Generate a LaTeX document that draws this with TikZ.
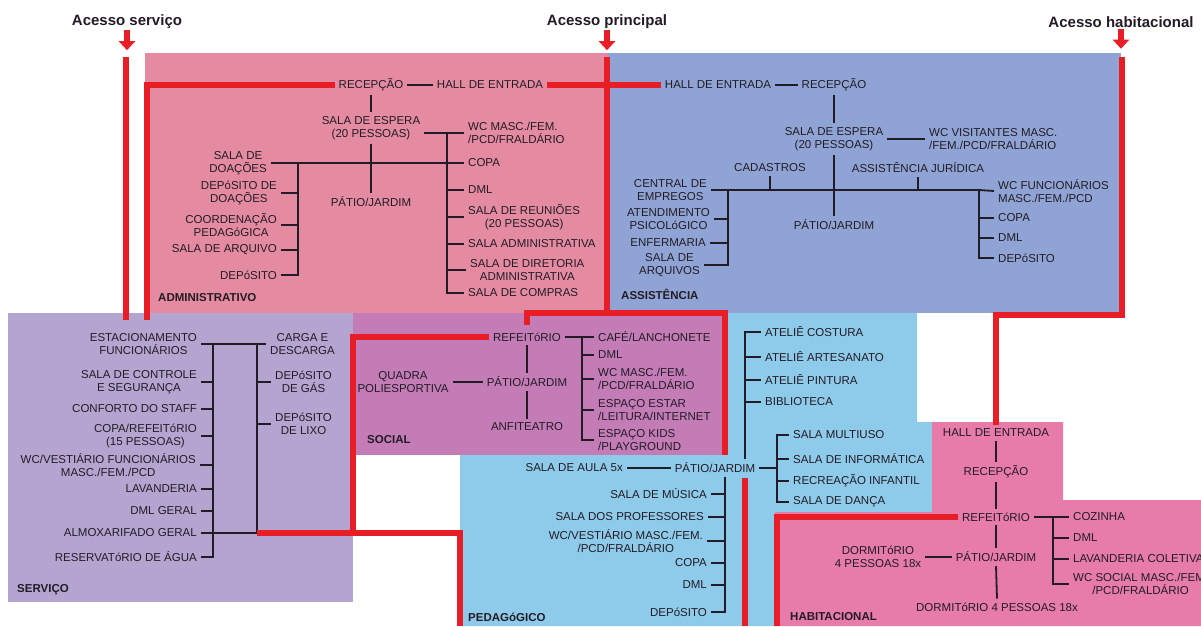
\documentclass[tikz,border=0pt]{standalone}
\usepackage{fontspec}
\setmainfont{Liberation Sans}
\usetikzlibrary{arrows.meta}
\definecolor{admpink}{RGB}{229,139,161}
\definecolor{asblue}{RGB}{143,164,212}
\definecolor{svlilac}{RGB}{180,164,208}
\definecolor{somauve}{RGB}{196,124,183}
\definecolor{pdsky}{RGB}{142,202,233}
\definecolor{hbpink}{RGB}{231,123,170}
\definecolor{rdline}{RGB}{232,30,38}
\definecolor{ink}{RGB}{35,28,38}

\begin{document}
\begin{tikzpicture}[x=1pt,y=-1pt]
\tikzstyle{room}=[font=\fontsize{11.5}{13}\selectfont,text=ink,inner sep=4pt,align=center]
\tikzstyle{roomE}=[room,anchor=east]
\tikzstyle{roomW}=[room,anchor=west]
\tikzstyle{roomWL}=[room,anchor=west,align=left]
\tikzstyle{zone}=[font=\fontsize{11.5}{13}\selectfont\bfseries,text=ink,anchor=west,inner sep=4pt]
\tikzstyle{gatelabel}=[font=\fontsize{15}{17}\selectfont\bfseries,text=ink,inner sep=1pt]
\tikzstyle{link}=[draw=ink,line width=1.8pt]
\tikzstyle{route}=[draw=rdline,line width=5.5pt]
\tikzstyle{gate}=[route,-{Triangle[width=16pt,length=9pt]}]

\useasboundingbox (0,0) rectangle (1201,626);
\fill[white] (0,0) rectangle (1201,626);

\fill[admpink] (145,53) rectangle (608,313);
\fill[asblue] (608,53) rectangle (1121,313);
\fill[svlilac] (8,313) rectangle (353,602);
\fill[somauve] (353,313) rectangle (728,455);
\fill[pdsky] (728,313) -- (917,313) -- (917,422) -- (932,422) -- (932,512) -- (775,512) -- (775,626) -- (460,626) -- (460,455) -- (728,455) -- cycle;
\fill[hbpink] (932,422) -- (1063,422) -- (1063,500) -- (1201,500) -- (1201,626) -- (775,626) -- (775,512) -- (932,512) -- cycle;

\node[gatelabel] (tSer) at (127,22) {Acesso serviço};
\node[gatelabel] (tPri) at (607,22) {Acesso principal};
\node[gatelabel] (tHab) at (1121,22) {Acesso habitacional};
\draw[gate] (tSer.south) -- ++(0,20);
\draw[gate] (tPri.south) -- ++(0,20);
\draw[gate] (tHab.south) -- ++(0,20);

\node[room] (aRec) at (371,85) {RECEPÇÃO};
\node[room] (aHall) at (490,85) {HALL DE ENTRADA};
\node[room] (aEsp) at (371,128) {SALA DE ESPERA\\(20 PESSOAS)};
\node[room] (aPat) at (371,202) {PÁTIO/JARDIM};
\node[roomE] (aDoa) at (271,163) {SALA DE\\DOAÇÕES};
\node[roomE] (aDepD) at (281,193) {DEPóSITO DE\\DOAÇÕES};
\node[roomE] (aCoord) at (281,225) {COORDENAÇÃO\\PEDAGóGICA};
\node[roomE] (aArq) at (281,250) {SALA DE ARQUIVO};
\node[roomE] (aDep) at (281,275) {DEPóSITO};
\node[roomWL] (aWc) at (464,133) {WC MASC./FEM.\\/PCD/FRALDÁRIO};
\node[roomW] (aCopa) at (464,163) {COPA};
\node[roomW] (aDml) at (464,190) {DML};
\node[roomW] (aReun) at (464,217) {SALA DE REUNIÕES\\(20 PESSOAS)};
\node[roomW] (aAdm) at (464,244) {SALA ADMINISTRATIVA};
\node[roomW] (aDir) at (466,270) {SALA DE DIRETORIA\\ADMINISTRATIVA};
\node[roomW] (aComp) at (464,293) {SALA DE COMPRAS};
\node[zone] (aZone) at (154,298) {ADMINISTRATIVO};
\coordinate (aSL) at (298,163);
\coordinate (aSR) at (447,133);

\draw[link] (aRec) -- (aHall);
\draw[link] (aRec.south) -- (aEsp.north);
\draw[link] (aEsp.south) -- (aPat.north);
\draw[link] (aDoa.east) -- (aCopa.west);
\draw[link] (aSL) |- (aDep.east);
\draw[link] (aDepD.east) -- (aDepD.east -| aSL);
\draw[link] (aCoord.east) -- (aCoord.east -| aSL);
\draw[link] (aArq.east) -- (aArq.east -| aSL);
\draw[link] (aEsp.east |- aWc.west) -- (aWc.west);
\draw[link] (aSR) |- (aComp.west);
\draw[link] (aDml.west -| aSR) -- (aDml.west);
\draw[link] (aReun.west -| aSR) -- (aReun.west);
\draw[link] (aAdm.west -| aSR) -- (aAdm.west);
\draw[link] (aDir.west -| aSR) -- (aDir.west);

\node[room] (sHall) at (718,85) {HALL DE ENTRADA};
\node[room] (sRec) at (834,85) {RECEPÇÃO};
\node[room] (sEsp) at (834,139) {SALA DE ESPERA\\(20 PESSOAS)};
\node[roomWL] (sWcV) at (925,139) {WC VISITANTES MASC.\\/FEM./PCD/FRALDÁRIO};
\node[room] (sCad) at (770,168) {CADASTROS};
\node[room] (sJur) at (918,168) {ASSISTÊNCIA JURÍDICA};
\node[room] (sPat) at (834,225) {PÁTIO/JARDIM};
\node[roomE] (sCent) at (711,190) {CENTRAL DE\\EMPREGOS};
\node[roomE] (sAten) at (714,219) {ATENDIMENTO\\PSICOLóGICO};
\node[roomE] (sEnf) at (710,243) {ENFERMARIA};
\node[roomE] (sArq) at (704,265) {SALA DE\\ARQUIVOS};
\node[roomWL] (sWcF) at (994,191) {WC FUNCIONÁRIOS\\MASC./FEM./PCD};
\node[roomW] (sCopa) at (994,218) {COPA};
\node[roomW] (sDml) at (994,238) {DML};
\node[roomW] (sDep) at (994,258) {DEPóSITO};
\node[zone] (sZone) at (617,294) {ASSISTÊNCIA};
\coordinate (sSL) at (728,190);
\coordinate (sSR) at (979,190);

\draw[link] (sHall) -- (sRec);
\draw[link] (sRec.south) -- (sEsp.north);
\draw[link] (sEsp.east |- sWcV.west) -- (sWcV.west);
\draw[link] (sEsp.south) -- (sPat.north);
\draw[link] (sCent.east) -- (sSR) -- (sWcF.west);
\draw[link] (sCad.south) -- (sCad.south |- sSL);
\draw[link] (sJur.south) -- (sJur.south |- sSL);
\draw[link] (sSL) |- (sArq.east);
\draw[link] (sAten.east) -- (sAten.east -| sSL);
\draw[link] (sEnf.east) -- (sEnf.east -| sSL);
\draw[link] (sSR) |- (sDep.west);
\draw[link] (sCopa.west -| sSR) -- (sCopa.west);
\draw[link] (sDml.west -| sSR) -- (sDml.west);

\node[roomE] (vEst) at (201,344) {ESTACIONAMENTO\\FUNCIONÁRIOS};
\node[roomE] (vCtrl) at (201,382) {SALA DE CONTROLE\\E SEGURANÇA};
\node[roomE] (vConf) at (201,409) {CONFORTO DO STAFF};
\node[roomE] (vCopa) at (201,436) {COPA/REFEITóRIO\\(15 PESSOAS)};
\node[roomE] (vWc) at (200,465) {WC/VESTIÁRIO FUNCIONÁRIOS\\MASC./FEM./PCD};
\node[roomE] (vLav) at (201,489) {LAVANDERIA};
\node[roomE] (vDml) at (201,511) {DML GERAL};
\node[roomE] (vAlm) at (201,533) {ALMOXARIFADO GERAL};
\node[roomE] (vRes) at (201,557) {RESERVATóRIO DE ÁGUA};
\node[roomW] (vCarga) at (266,344) {CARGA E\\DESCARGA};
\node[roomW] (vGas) at (271,382) {DEPóSITO\\DE GÁS};
\node[roomW] (vLixo) at (271,424) {DEPóSITO\\DE LIXO};
\node[zone] (vZone) at (13,590) {SERVIÇO};
\coordinate (vL) at (213,344);
\coordinate (vR) at (257,344);

\draw[link] (vEst.east) -- (vCarga.west);
\draw[link] (vL) |- (vRes.east);
\draw[link] (vCtrl.east) -- (vCtrl.east -| vL);
\draw[link] (vConf.east) -- (vConf.east -| vL);
\draw[link] (vCopa.east) -- (vCopa.east -| vL);
\draw[link] (vWc.east) -- (vWc.east -| vL);
\draw[link] (vLav.east) -- (vLav.east -| vL);
\draw[link] (vDml.east) -- (vDml.east -| vL);
\draw[link] (vAlm.east) -- (vAlm.east -| vR);
\draw[link] (vR) -- (vAlm.east -| vR);
\draw[link] (vGas.west -| vR) -- (vGas.west);
\draw[link] (vLixo.west -| vR) -- (vLixo.west);

\node[room] (oRef) at (527,337) {REFEITóRIO};
\node[room] (oPat) at (527,382) {PÁTIO/JARDIM};
\node[room] (oAnf) at (527,427) {ANFITEATRO};
\node[room] (oQua) at (403,382) {QUADRA\\POLIESPORTIVA};
\node[roomW] (oCafe) at (594,337) {CAFÉ/LANCHONETE};
\node[roomW] (oDml) at (594,355) {DML};
\node[roomWL] (oWc) at (594,379) {WC MASC./FEM.\\/PCD/FRALDÁRIO};
\node[roomWL] (oEst) at (594,410) {ESPAÇO ESTAR\\/LEITURA/INTERNET};
\node[roomWL] (oKids) at (594,440) {ESPAÇO KIDS\\/PLAYGROUND};
\node[zone] (oZone) at (363,440) {SOCIAL};
\coordinate (oS) at (582,337);

\draw[link] (oRef.east) -- (oCafe.west);
\draw[link] (oRef.south) -- (oPat.north);
\draw[link] (oPat.south) -- (oAnf.north);
\draw[link] (oQua.east) -- (oPat.west);
\draw[link] (oS) |- (oKids.west);
\draw[link] (oDml.west -| oS) -- (oDml.west);
\draw[link] (oWc.west -| oS) -- (oWc.west);
\draw[link] (oEst.west -| oS) -- (oEst.west);

\node[room] (pPat) at (715,468) {PÁTIO/JARDIM};
\node[roomE] (pAula) at (627,468) {SALA DE AULA 5x};
\node[roomW] (pCos) at (761,332) {ATELIÊ COSTURA};
\node[roomW] (pArt) at (761,357) {ATELIÊ ARTESANATO};
\node[roomW] (pPin) at (761,380) {ATELIÊ PINTURA};
\node[roomW] (pBib) at (761,402) {BIBLIOTECA};
\node[roomW] (pMul) at (789,435) {SALA MULTIUSO};
\node[roomW] (pInf) at (789,459) {SALA DE INFORMÁTICA};
\node[roomW] (pRec) at (789,481) {RECREAÇÃO INFANTIL};
\node[roomW] (pDan) at (789,502) {SALA DE DANÇA};
\node[roomE] (pMus) at (711,494) {SALA DE MÚSICA};
\node[roomE] (pProf) at (708,517) {SALA DOS PROFESSORES};
\node[roomE] (pWc) at (707,541) {WC/VESTIÁRIO MASC./FEM.\\/PCD/FRALDÁRIO};
\node[roomE] (pCopa) at (711,563) {COPA};
\node[roomE] (pDml) at (711,585) {DML};
\node[roomE] (pDep) at (711,612) {DEPóSITO};
\node[zone] (pZone) at (464,617) {PEDAGóGICO};
\coordinate (pU) at (745,332);
\coordinate (pR) at (777,468);
\coordinate (pL) at (725,480);

\draw[link] (pAula.east) -- (pPat.west);
\draw[link] (pCos.west) -| (pPat.north -| pU);
\draw[link] (pArt.west -| pU) -- (pArt.west);
\draw[link] (pPin.west -| pU) -- (pPin.west);
\draw[link] (pBib.west -| pU) -- (pBib.west);
\draw[link] (pPat.east) -- (pR);
\draw[link] (pMul.west) -| (pR) |- (pDan.west);
\draw[link] (pInf.west -| pR) -- (pInf.west);
\draw[link] (pRec.west -| pR) -- (pRec.west);
\draw[link] (pPat.south -| pL) |- (pDep.east);
\draw[link] (pMus.east) -- (pMus.east -| pL);
\draw[link] (pProf.east) -- (pProf.east -| pL);
\draw[link] (pWc.east) -- (pWc.east -| pL);
\draw[link] (pCopa.east) -- (pCopa.east -| pL);
\draw[link] (pDml.east) -- (pDml.east -| pL);

\node[room] (hHall) at (996,433) {HALL DE ENTRADA};
\node[room] (hRec) at (996,472) {RECEPÇÃO};
\node[room] (hRef) at (996,517) {REFEITóRIO};
\node[room] (hPat) at (996,557) {PÁTIO/JARDIM};
\node[room] (hDorm) at (997,607) {DORMITóRIO 4 PESSOAS 18x};
\node[room] (hDor4) at (878,557) {DORMITóRIO\\4 PESSOAS 18x};
\node[roomW] (hCoz) at (1069,517) {COZINHA};
\node[roomW] (hDml) at (1069,538) {DML};
\node[roomW] (hLav) at (1069,559) {LAVANDERIA COLETIVA};
\node[roomW] (hWc) at (1069,584) {WC SOCIAL MASC./FEM.\\/PCD/FRALDÁRIO};
\node[zone] (hZone) at (786,617) {HABITACIONAL};
\coordinate (hS) at (1053,517);

\draw[link] (hHall.south) -- (hRec.north);
\draw[link] (hRec.south) -- (hRef.north);
\draw[link] (hRef.south) -- (hPat.north);
\draw[link] (hPat.south) -- (hDorm.north);
\draw[link] (hDor4.east) -- (hPat.west);
\draw[link] (hRef.east) -- (hCoz.west);
\draw[link] (hS) |- (hWc.west);
\draw[link] (hDml.west -| hS) -- (hDml.west);
\draw[link] (hLav.west -| hS) -- (hLav.west);

\coordinate (svA) at (126,57);
\coordinate (svB) at (126,320);
\coordinate (adB) at (147,320);
\coordinate (mnA) at (607,57);
\coordinate (mnB) at (607,313);
\coordinate (soA) at (527,325);
\coordinate (soB) at (725,455);
\coordinate (svC) at (353,533);
\coordinate (pdA) at (460,533);
\coordinate (pdB) at (460,626);
\coordinate (pdC) at (745,478);
\coordinate (pdD) at (745,626);
\coordinate (hbA) at (1122,57);
\coordinate (hbB) at (1122,315);
\coordinate (hbC) at (777,626);

\draw[route] (svA) -- (svB);
\draw[route] (adB) |- (aRec.west);
\draw[route] (mnA) -- (mnB);
\draw[route] (aHall.east) -- (sHall.west);
\draw[route] (soA) |- (mnB -| soB) -- (soB);
\draw[route] (oRef.west) -| (svC);
\draw[route] (vAlm.east -| vR) -- (pdA) -- (pdB);
\draw[route] (pdC) -- (pdD);
\draw[route] (hbA) -- (hbB) -| (hHall.north);
\draw[route] (hRef.west) -| (hbC);

\end{tikzpicture}
\end{document}
